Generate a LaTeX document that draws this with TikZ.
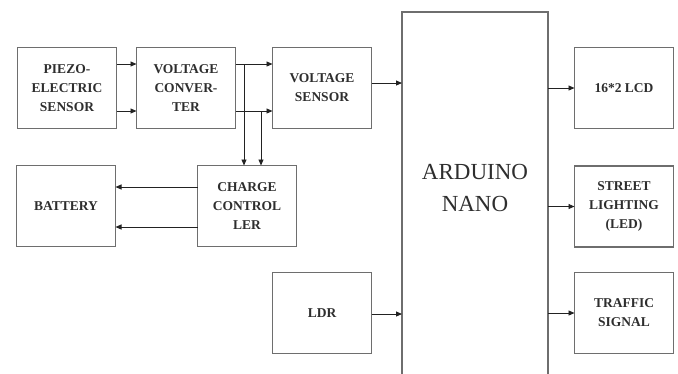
\documentclass[tikz,border=0pt]{standalone}
\usepackage{fontspec}
\setmainfont{Liberation Serif}
\usetikzlibrary{positioning, arrows.meta}
\definecolor{clrbox}{HTML}{6E6E6E}
\definecolor{clrline}{HTML}{222222}
\definecolor{clrtext}{HTML}{2E2E2E}

\begin{document}
\begin{tikzpicture}[
    x=1pt, y=-1pt,
    >={Triangle[length=6pt, width=5pt]},
    block/.style={draw=clrbox, line width=1.2pt, minimum width=99pt, minimum height=81pt,
                  inner sep=2pt, outer sep=0pt, align=center, text=clrtext,
                  font=\fontsize{13.5}{19}\selectfont\bfseries},
    arrow/.style={->, color=clrline, line width=0.9pt},
    title/.style={font=\fontsize{23}{32}\selectfont, text=clrtext, align=center},
]
\useasboundingbox (0,0) rectangle (678,373);
% input side
\node[block] (n_piezo) at (67,88) {PIEZO-\\ELECTRIC\\SENSOR};
\node[block, right=20pt of n_piezo] (n_conv) {VOLTAGE\\CONVER-\\TER};
\node[block, right=37pt of n_conv] (n_vsens) {VOLTAGE\\SENSOR};
\node[block] (n_charge) at (247,206) {CHARGE\\CONTROL\\LER};
\node[block, left=82pt of n_charge] (n_battery) {BATTERY};
\node[block] (n_ldr) at (322,313) {LDR};
% controller
\node[draw=clrbox, line width=1.3pt, minimum width=146pt, minimum height=380pt, outer sep=0pt, anchor=north] (n_arduino) at (475,12) {};
\node[title] (n_arduino_txt) at (475,188) {ARDUINO\\NANO};
% output side
\node[block] (n_lcd) at (624,88) {16*2 LCD};
\node[block] (n_street) at (624,206.5) {STREET\\LIGHTING\\(LED)};
\node[block] (n_traffic) at (624,313) {TRAFFIC\\SIGNAL};
% junctions
\coordinate (j_1) at (244,64);
\coordinate (j_2) at (261,111);
\coordinate (j_3) at (150,187);
\coordinate (j_4) at (150,227);
\coordinate (j_5) at (380,83);
\coordinate (j_6) at (380,314);
\draw[arrow] (n_piezo.east |- j_1) -- (n_conv.west |- j_1);
\draw[arrow] (n_piezo.east |- j_2) -- (n_conv.west |- j_2);
\draw[arrow] (n_conv.east |- j_1) -- (n_vsens.west |- j_1);
\draw[arrow] (n_conv.east |- j_2) -- (n_vsens.west |- j_2);
\draw[arrow] (j_1) -- (j_1 |- n_charge.north);
\draw[arrow] (j_2) -- (j_2 |- n_charge.north);
\draw[arrow] (n_charge.west |- j_3) -- (n_battery.east |- j_3);
\draw[arrow] (n_charge.west |- j_4) -- (n_battery.east |- j_4);
\draw[arrow] (n_vsens.east |- j_5) -- (n_arduino.west |- j_5);
\draw[arrow] (n_ldr.east |- j_6) -- (n_arduino.west |- j_6);
\draw[arrow] (n_arduino.east |- n_lcd.west) -- (n_lcd.west);
\draw[arrow] (n_arduino.east |- n_street.west) -- (n_street.west);
\draw[arrow] (n_arduino.east |- n_traffic.west) -- (n_traffic.west);
\end{tikzpicture}
\end{document}
